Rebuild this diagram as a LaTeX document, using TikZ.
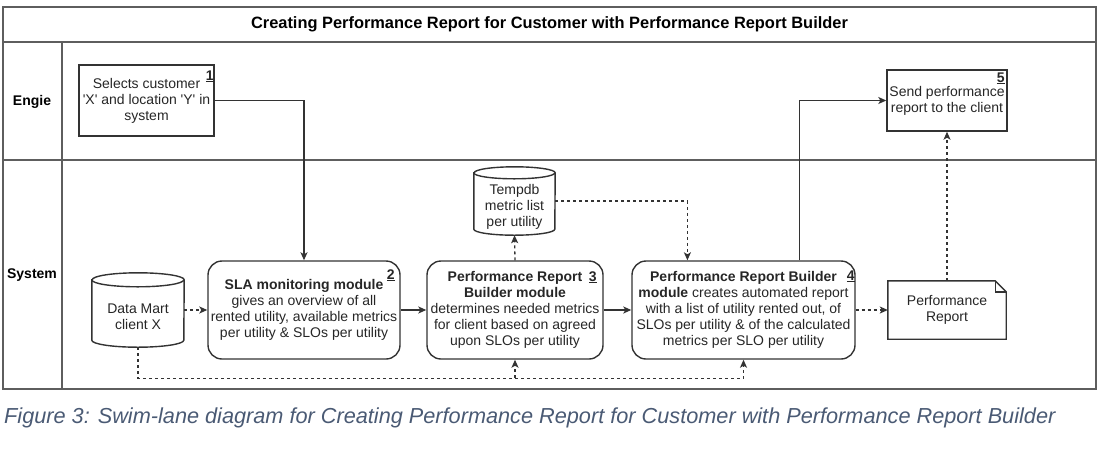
\documentclass[tikz,border=0pt]{standalone}
\usepackage{fontspec}
\setmainfont{Liberation Sans}
\usetikzlibrary{arrows.meta,calc}
\definecolor{boxc}{HTML}{333333}
\definecolor{txtc}{HTML}{262626}
\definecolor{framec}{HTML}{5E5E5E}
\definecolor{capc}{HTML}{4A5A74}
\newcommand\drawcyl[3]{%
  \draw[boxline] ([yshift=-#3]#1.north west) -- ([yshift=#3]#1.south west)
     arc[start angle=180,end angle=360,x radius=#2,y radius=#3]
     -- ([yshift=-#3]#1.north east)
     arc[start angle=0,end angle=180,x radius=#2,y radius=#3] -- cycle;
  \draw[boxline] ([yshift=-#3]#1.north west) arc[start angle=180,end angle=360,x radius=#2,y radius=#3];}
\begin{document}
\begin{tikzpicture}[x=1pt,y=-1pt,
  boxline/.style={draw=boxc,line width=1.4pt},
  txt/.style={text=txtc,align=center,inner sep=0pt,font=\fontsize{14}{16}\selectfont},
  box/.style={txt,boxline},
  rbox/.style={box,rounded corners=14pt},
  plain/.style={inner sep=0pt,minimum width=#1},
  num/.style={inner sep=0pt,font=\fontsize{14}{16}\selectfont\bfseries,text=txtc},
  lane/.style={inner sep=0pt,font=\fontsize{14}{16}\selectfont\bfseries},
  frame/.style={draw=framec,line width=1.6pt},
  arr/.style={draw=boxc,line width=1.3pt,-{Stealth[length=8pt,width=7pt,inset=2pt]}},
  darr/.style={arr,dash pattern=on 3pt off 3pt},
  dline/.style={draw=boxc,line width=1.3pt,dash pattern=on 3pt off 3pt}]
\useasboundingbox (0,0) rectangle (1102,456);
% frame
\draw[frame] (3,7) rectangle (1096,389);
\draw[frame] (3,42) -- (1096,42);
\draw[frame] (3,160) -- (1096,160);
\draw[frame] (62,42) -- (62,389);
\node[lane,font=\fontsize{16.4}{18}\selectfont\bfseries] (title) at (549.5,24.5) {Creating Performance Report for Customer with Performance Report Builder};
\node[lane] (engie) at (32,102) {Engie};
\node[lane] (system) at (32,275) {System};
% nodes
\node[box,minimum width=135,minimum height=71] (b1) at (146.5,100.5) {Selects customer\\\textquotesingle X\textquotesingle{} and location \textquotesingle Y\textquotesingle{} in\\system};
\node[num] (n1) at ([xshift=-5pt,yshift=-12pt]b1.north east) {\underline{1}};
\node[box,minimum width=120,minimum height=61] (b5) at (947,100.5) {Send performance\\report to the client};
\node[num] (n5) at ([xshift=-7pt,yshift=-9pt]b5.north east) {\underline{5}};
\node[rbox,minimum width=192,minimum height=98] (b2) at (304,310) {\textbf{SLA monitoring module}\\gives an overview of all\\rented utility, available metrics\\per utility \& SLOs per utility};
\node[num] (n2) at ([xshift=-10pt,yshift=-15pt]b2.north east) {\underline{2}};
\node[rbox,minimum width=176,minimum height=98] (b3) at (515,310) {\textbf{Performance Report}\\\textbf{Builder module}\\determines needed metrics\\for client based on agreed\\upon SLOs per utility};
\node[num] (n3) at ([xshift=-11pt,yshift=-17pt]b3.north east) {\underline{3}};
\node[rbox,minimum width=223,minimum height=98] (b4) at (743.5,310) {\textbf{Performance Report Builder}\\\textbf{module} creates automated report\\with a list of utility rented out, of\\SLOs per utility \& of the calculated\\metrics per SLO per utility};
\node[num] (n4) at ([xshift=-5pt,yshift=-16pt]b4.north east) {\underline{4}};
% cylinders
\node[plain=92,minimum height=74] (dm) at (138,310) {};
\drawcyl{dm}{46pt}{7pt}
\node[txt] (dmtext) at (138,317) {Data Mart\\client X};
\node[plain=81,minimum height=68] (tdb) at (514.5,201) {};
\drawcyl{tdb}{40.5pt}{6pt}
\node[txt] (tdbtext) at (514.5,207) {Tempdb\\metric list\\per utility};
% document
\node[txt,minimum width=118,minimum height=58] (doc) at (947,310) {Performance\\Report};
\draw[boxline] (doc.north west) -- ([xshift=-11pt]doc.north east) -- ([yshift=-11pt]doc.north east) -- (doc.south east) -- (doc.south west) -- cycle;
\draw[boxline] ([xshift=-11pt]doc.north east) -- ([xshift=-11pt,yshift=-11pt]doc.north east) -- ([yshift=-11pt]doc.north east);
% connectors
\draw[arr] (b1.east) -| (b2.north);
\draw[darr] (dm.east) -- (b2.west);
\draw[arr] (b2.east) -- (b3.west);
\draw[arr] (b3.east) -- (b4.west);
\draw[darr] (b3.north) -- (tdb.south);
\coordinate (b4in) at ($(b4.north west)!0.25!(b4.north east)$);
\coordinate (b4out) at ($(b4.north west)!0.75!(b4.north east)$);
\draw[darr] (tdb.east) -| (b4in);
\draw[arr] (b4out) |- (b5.west);
\draw[darr] (b4.east) -- (doc.west);
\draw[darr] (doc.north) -- (b5.south);
\draw[darr] (dm.south) -- ++(0,31) coordinate (bus) -| (b4.south);
\draw[darr] (b3.south |- bus) -- (b3.south);
% caption
\node[anchor=west,inner sep=0pt,text=capc,font=\fontsize{21.7}{24}\selectfont\itshape] (caption) at (4,418) {Figure 3: Swim-lane diagram for Creating Performance Report for Customer with Performance Report Builder};
\end{tikzpicture}
\end{document}
